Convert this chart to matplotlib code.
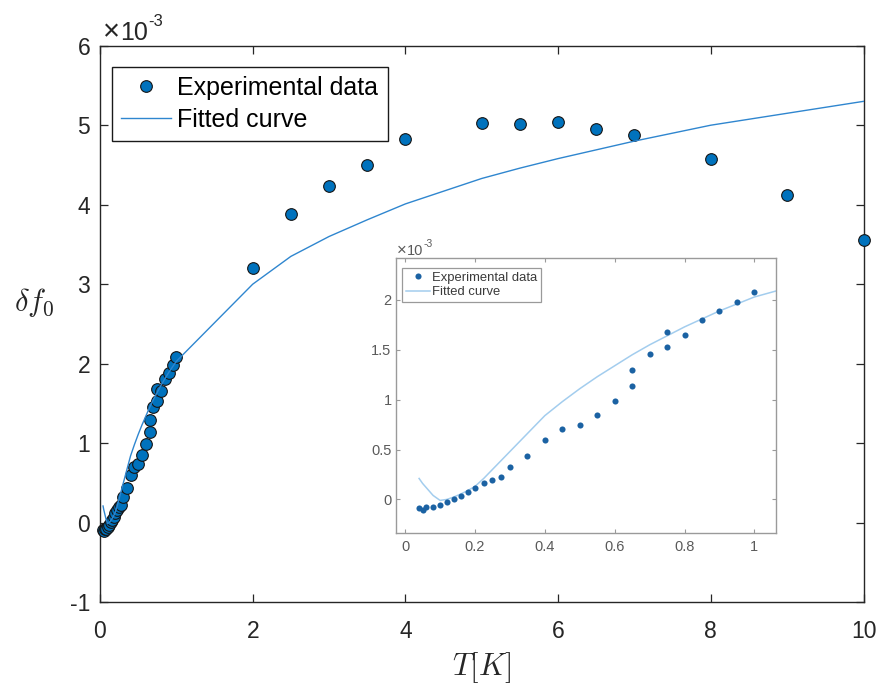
import matplotlib
matplotlib.use("Agg")
import matplotlib.pyplot as plt
from matplotlib.ticker import FuncFormatter, MultipleLocator

plt.rcParams["font.family"] = ["Liberation Sans", "DejaVu Sans"]
plt.rcParams["mathtext.fontset"] = "dejavusans"
plt.rcParams["axes.unicode_minus"] = False

# Measured frequency shift (units of 1e-3) versus temperature T [K]
T_data = [0.04, 0.05, 0.06, 0.08, 0.10, 0.12, 0.14, 0.16, 0.18, 0.20,
          0.225, 0.25, 0.275, 0.30, 0.35, 0.40, 0.45, 0.50, 0.55, 0.60,
          0.65, 0.65, 0.70, 0.75, 0.75, 0.80, 0.85, 0.90, 0.95, 1.00,
          2.0, 2.5, 3.0, 3.5, 4.0, 5.0, 5.5, 6.0, 6.5, 7.0, 8.0, 9.0, 10.0]
df0_data = [-0.09, -0.107, -0.074, -0.08, -0.06, -0.027, 0.007, 0.037, 0.074, 0.117,
            0.164, 0.194, 0.224, 0.324, 0.435, 0.599, 0.706, 0.742, 0.849, 0.987,
            1.14, 1.298, 1.458, 1.528, 1.682, 1.652, 1.803, 1.886, 1.983, 2.08,
            3.20, 3.88, 4.23, 4.50, 4.83, 5.03, 5.02, 5.04, 4.95, 4.88, 4.57, 4.12, 3.56]

# Fitted model evaluated at the measurement temperatures (units of 1e-3)
T_fit = [0.04, 0.05, 0.06, 0.08, 0.10, 0.12, 0.14, 0.16, 0.18, 0.20,
         0.225, 0.25, 0.275, 0.30, 0.35, 0.40, 0.45, 0.50, 0.55, 0.60,
         0.65, 0.70, 0.75, 0.80, 0.85, 0.90, 0.95, 1.00,
         2.0, 2.5, 3.0, 3.5, 4.0, 5.0, 5.5, 6.0, 6.5, 7.0, 8.0, 9.0, 10.0]
df0_fit = [0.21, 0.16, 0.12, 0.04, -0.01, 0.0, 0.025, 0.055, 0.09, 0.13,
           0.21, 0.30, 0.39, 0.48, 0.66, 0.84, 0.98, 1.11, 1.23, 1.34,
           1.45, 1.55, 1.64, 1.73, 1.81, 1.89, 1.96, 2.03,
           3.0, 3.35, 3.6, 3.81, 4.01, 4.33, 4.46, 4.58, 4.69, 4.80, 5.0, 5.15, 5.30]

scale = 1e-3
xd = T_data
yd = [v * scale for v in df0_data]
xf = T_fit
yf = [v * scale for v in df0_fit]

label_data = "Experimental data"
label_fit = "Fitted curve"

axis_col = "#262626"
W, H = 884, 689
fig = plt.figure(figsize=(W / 100, H / 100), dpi=100)


def px(x, y):
    """Pixel position (from top-left) to figure fraction."""
    return x / W, 1 - y / H


def scaled_ticks(v, pos):
    return f"{v / scale:g}"


def exponent_label(x, y, times_size, size, sup_size, color):
    """Draw a MATLAB-style 'x10^-3' multiplier with its baseline at (x, y) px."""
    fig.canvas.draw()
    r = fig.canvas.get_renderer()
    t1 = fig.text(*px(x, y), "\u00d7", fontsize=times_size, color=color,
                  va="baseline")
    x1 = t1.get_window_extent(r).x1
    t2 = fig.text(x1 / W, 1 - y / H, "10", fontsize=size, color=color,
                  va="baseline")
    x2 = t2.get_window_extent(r).x1
    fig.text(x2 / W, 1 - (y - 0.55 * size * 100 / 72) / H, "-3",
             fontsize=sup_size, color=color, va="baseline")


# ---------------- main axes ----------------
L, R, Tp, B = 100, 863.5, 45.7, 602.2
ax = fig.add_axes([L / W, 1 - B / H, (R - L) / W, (B - Tp) / H])
ax.plot(xd, yd, "o", ms=8.4, mfc="#0072BD", mec="#151515", mew=0.8,
        clip_on=False, zorder=3, label=label_data)
ax.plot(xf, yf, "-", color="#2f86cf", lw=1.0, zorder=4, label=label_fit)
ax.set_xlim(0, 10)
ax.set_ylim(-1e-3, 6e-3)
ax.xaxis.set_major_locator(MultipleLocator(2))
ax.yaxis.set_major_locator(MultipleLocator(1e-3))
ax.yaxis.set_major_formatter(FuncFormatter(scaled_ticks))
for s in ax.spines.values():
    s.set_color(axis_col)
    s.set_linewidth(1.0)
ax.tick_params(direction="in", length=5.5, width=0.9, colors=axis_col,
               labelsize=16.5, top=True, right=True)
ax.tick_params(axis="x", pad=13)
ax.tick_params(axis="y", pad=7)

ax.set_xlabel(r"$T[K]$", fontsize=22, math_fontfamily="cm", color=axis_col)
ax.xaxis.set_label_coords(0.5, -0.118)
ax.xaxis.label.set_va("center")
ax.set_ylabel(r"$\delta f_0$", fontsize=22, math_fontfamily="cm",
              rotation=0, color=axis_col)
ax.yaxis.set_label_coords(-0.0864, 0.539)
ax.yaxis.label.set_va("center")
ax.yaxis.label.set_ha("center")

leg = ax.legend(loc="upper left", bbox_to_anchor=(0.0153, 0.9623),
                borderaxespad=0, fontsize=18, frameon=True, fancybox=False,
                framealpha=1, edgecolor="#1a1a1a", handlelength=2.0,
                handletextpad=0.25, borderpad=0.38, labelspacing=0.3)
leg.get_frame().set_linewidth(1.0)

# ---------------- inset axes ----------------
iL, iR, iT, iB = 395.7, 776.0, 258.3, 533.3
ins = fig.add_axes([iL / W, 1 - iB / H, (iR - iL) / W, (iB - iT) / H])
ins_col = "#5a5a5a"
ins.plot(xd, yd, "o", ms=4.4, mfc="#1b62a3", mec="#1b62a3", mew=0.0,
         zorder=3, label=label_data)
ins.plot(xf, yf, "-", color="#a3cdee", lw=1.1, zorder=2, label=label_fit)
ins.set_xlim(-0.027, 1.062)
ins.set_ylim(-0.34e-3, 2.418e-3)
ins.xaxis.set_major_locator(MultipleLocator(0.2))
ins.xaxis.set_major_formatter(FuncFormatter(lambda v, p: f"{v:g}"))
ins.yaxis.set_major_locator(MultipleLocator(0.5e-3))
ins.yaxis.set_major_formatter(FuncFormatter(scaled_ticks))
for s in ins.spines.values():
    s.set_color("#9a9a9a")
    s.set_linewidth(1.0)
ins.tick_params(direction="in", length=3, width=0.8, colors="#9a9a9a",
                labelcolor=ins_col, labelsize=10.5, top=True, right=True)
ins.tick_params(axis="x", pad=5)
ins.tick_params(axis="y", pad=3)

leg2 = ins.legend(loc="upper left", bbox_to_anchor=(0.0158, 0.966),
                  borderaxespad=0, fontsize=9.4, frameon=True, fancybox=False,
                  framealpha=1, edgecolor="#9a9a9a", handlelength=1.9,
                  handletextpad=0.1, borderpad=0.3, labelspacing=0.2)
leg2.get_frame().set_linewidth(0.9)
for t in leg2.get_texts():
    t.set_color("#3a3a3a")

# axis multipliers
exponent_label(103, 40, 21, 18, 12, axis_col)
exponent_label(397, 255, 12, 10.5, 7.5, ins_col)

fig.savefig("out.png", dpi=100)
